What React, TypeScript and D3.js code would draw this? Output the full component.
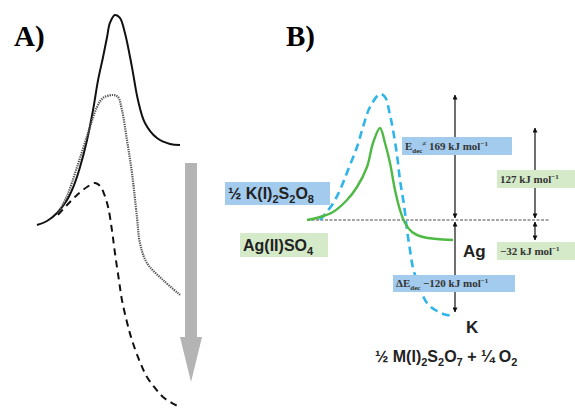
import * as d3 from "d3";
import React from "react";

// Panel A: reaction profiles (reaction coordinate 0-100, relative energy)
const profileSolid: [number, number][] = [
  [0, 0], [7, 1.9], [14, 5.7], [21, 11.9], [25.9, 19], [30.1, 27.6], [35, 40.5],
  [39.2, 54.8], [42.7, 69], [46.2, 80], [49, 89.5], [51, 96.2], [54.5, 100],
  [58, 98.6], [61.5, 91.4], [66.4, 75.2], [70.6, 59.5], [75.5, 48.6], [83.9, 41.4],
  [93, 38.6], [100, 38.1],
];
const profileDotted: [number, number][] = [
  [14.7, 5.7], [21, 13.8], [28, 27.6], [35.7, 43.8], [42, 56.2], [46.2, 60.5],
  [53.1, 61.9], [56.6, 61], [59.4, 54.8], [62.9, 40.5], [66.4, 24.8], [69.9, 3.8],
  [72, -8.6], [76.9, -18.1], [88.1, -26.2], [100, -33.3],
];
const profileDashed: [number, number][] = [
  [14.7, 4.8], [21, 9.5], [28, 14.3], [35, 18.1], [40.6, 20], [44.1, 18.6],
  [46.9, 14.8], [49.7, 8.6], [52.4, -2.4], [54.5, -13.3], [57.3, -26.2],
  [59.4, -35.7], [62.9, -46.2], [66.4, -54.8], [72, -65.2], [76.9, -72.4],
  [82.5, -77.6], [88.1, -81.9], [94.4, -84.8], [100, -86.7],
];

// Panel B: Ag and K decomposition profiles
const agProfile: [number, number][] = [
  [2.8, 0], [8, 2.4], [13.2, 6.4], [18.8, 16], [22.8, 26.4], [26.8, 42.4],
  [29.2, 61.6], [32, 73.6], [34, 61.6], [36, 45.6], [38, 24], [40, 8],
  [42, -2.4], [44.8, -9.6], [49.2, -13.6], [61.2, -16],
];
const kProfile: [number, number][] = [
  [8, 0], [12.8, 12], [16, 24], [19.2, 40], [22.8, 58.4], [25.2, 74.4],
  [28, 90.4], [32, 100.8], [34, 98.4], [36, 84], [37.2, 72], [38.8, 52],
  [40, 32], [41.6, 12], [42.8, -8], [44, -24], [45.2, -38.4], [47.2, -50.4],
  [50.8, -66.4], [54.8, -72.8], [58.8, -76], [62, -76],
];
const baselineRange = [2.8, 100];
const arrowX = [62, 94];
const energyLevels = { ts: 100, agTs: 73.6, ag: -16, k: -73.6 };

// formula pieces: [text, subscript?]
const kFormula: [string, boolean][] = [["½ K(I)", false], ["2", true], ["S", false], ["2", true], ["O", false], ["8", true]];
const agFormula: [string, boolean][] = [["Ag(II)SO", false], ["4", true]];
const productFormula: [string, boolean][] = [
  ["½ M(I)", false], ["2", true], ["S", false], ["2", true], ["O", false], ["7", true],
  [" + ¼ O", false], ["2", true],
];

const xA = d3.scaleLinear().domain([0, 100]).range([37, 180]);
const yA = d3.scaleLinear().domain([0, 100]).range([225, 15]);
const xB = d3.scaleLinear().domain([0, 100]).range([300, 550]);
const yB = d3.scaleLinear().domain([0, 100]).range([220, 95]);

const BLUE_BOX = "#a3cbed";
const GREEN_BOX = "#d4eac8";
const SERIF = "'Liberation Serif', 'DejaVu Serif', serif";
const SANS = "'Liberation Sans', Arial, sans-serif";

const formulaSpans = (parts: [string, boolean][], subSize: number) => {
  let prevSub = false;
  return parts.map(([t, sub], i) => {
    const dy = sub === prevSub ? 0 : sub ? 4 : -4;
    prevSub = sub;
    return (
      <tspan key={i} dy={dy} fontSize={sub ? subSize : undefined}>{t}</tspan>
    );
  });
};

export default function App() {
  const lineA = d3
    .line<[number, number]>()
    .x((d) => xA(d[0]))
    .y((d) => yA(d[1]))
    .curve(d3.curveCatmullRom);
  const lineB = d3
    .line<[number, number]>()
    .x((d) => xB(d[0]))
    .y((d) => yB(d[1]))
    .curve(d3.curveCatmullRom);

  const y0 = yB(0);
  const ax = xB(arrowX[0]);
  const bx = xB(arrowX[1]);

  // gray downward arrow in panel A
  const gx = xA(107.7);
  const gTop = yA(29.5);
  const gBase = yA(-53.3);
  const gTip = yA(-74.8);

  return (
    <svg width={575} height={409} style={{ position: "absolute", left: 0, top: 0, background: "#fff" }}>
      <defs>
        <marker id="ah" viewBox="0 0 6 6" refX={5.5} refY={3} markerWidth={5} markerHeight={5}
          markerUnits="userSpaceOnUse" orient="auto-start-reverse">
          <path d="M0,0 L6,3 L0,6 z" fill="#111" />
        </marker>
      </defs>

      {/* Panel A */}
      <text x={14} y={46} fontFamily={SERIF} fontWeight="bold" fontSize={29}>A)</text>
      <path d={lineA(profileSolid) ?? ""} fill="none" stroke="#111" strokeWidth={2} />
      <path d={lineA(profileDotted) ?? ""} fill="none" stroke="#555" strokeWidth={2.2} strokeDasharray="1.3,1" />
      <path d={lineA(profileDashed) ?? ""} fill="none" stroke="#111" strokeWidth={2} strokeDasharray="7,5" />
      <path
        d={`M${gx - 6},${gTop} L${gx + 6},${gTop} L${gx + 6},${gBase} L${gx + 11},${gBase} L${gx},${gTip} L${gx - 11},${gBase} L${gx - 6},${gBase} Z`}
        fill="#b4b4b4"
      />

      {/* Panel B */}
      <text x={286} y={46} fontFamily={SERIF} fontWeight="bold" fontSize={29}>B)</text>

      <line x1={xB(baselineRange[0])} x2={xB(baselineRange[1])} y1={y0} y2={y0}
        stroke="#888" strokeWidth={1.5} strokeDasharray="3,1.5" />

      <path d={lineB(kProfile) ?? ""} fill="none" stroke="#2fb5ea" strokeWidth={2.6} strokeDasharray="8,5" />
      <path d={lineB(agProfile) ?? ""} fill="none" stroke="#4fb945" strokeWidth={2.4} />

      {/* energy arrows */}
      <line x1={ax} x2={ax} y1={y0 - 2} y2={yB(energyLevels.ts)} stroke="#222" strokeWidth={1.3}
        markerStart="url(#ah)" markerEnd="url(#ah)" />
      <line x1={ax} x2={ax} y1={y0 + 2} y2={yB(energyLevels.k)} stroke="#222" strokeWidth={1.3}
        markerStart="url(#ah)" markerEnd="url(#ah)" />
      <line x1={bx} x2={bx} y1={y0 - 2} y2={yB(energyLevels.agTs)} stroke="#222" strokeWidth={1.3}
        markerStart="url(#ah)" markerEnd="url(#ah)" />
      <line x1={bx} x2={bx} y1={y0 + 2} y2={yB(energyLevels.ag)} stroke="#222" strokeWidth={1.3}
        markerStart="url(#ah)" markerEnd="url(#ah)" />

      {/* species labels */}
      <rect x={225} y={182} width={105} height={23} fill={BLUE_BOX} />
      <text x={228} y={199} fontFamily={SANS} fontWeight="bold" fontSize={16} fill="#222">
        {formulaSpans(kFormula, 11)}
      </text>
      <rect x={240} y={233} width={88} height={24} fill={GREEN_BOX} />
      <text x={243} y={251} fontFamily={SANS} fontWeight="bold" fontSize={16} fill="#222">
        {formulaSpans(agFormula, 11)}
      </text>
      <text x={463} y={257} fontFamily={SANS} fontWeight="bold" fontSize={17} fill="#222">Ag</text>
      <text x={466} y={333} fontFamily={SANS} fontWeight="bold" fontSize={17} fill="#222">K</text>
      <text x={375} y={362} fontFamily={SANS} fontWeight="bold" fontSize={16} fill="#222">
        {formulaSpans(productFormula, 11)}
      </text>

      {/* energy labels */}
      <rect x={402} y={137} width={110} height={18} fill={BLUE_BOX} />
      <text x={405} y={150} fontFamily={SERIF} fontWeight="bold" fontSize={11} fill="#333">
        E<tspan dy={3} fontSize={7}>dec</tspan><tspan dy={-7} fontSize={7}>≠</tspan>
        <tspan dy={4}> 169 kJ mol</tspan><tspan dy={-4} fontSize={7}>−1</tspan>
      </text>
      <rect x={497} y={170} width={78} height={18} fill={GREEN_BOX} />
      <text x={500} y={183} fontFamily={SERIF} fontWeight="bold" fontSize={11} fill="#333">
        127 kJ mol<tspan dy={-4} fontSize={7}>−1</tspan>
      </text>
      <rect x={497} y={242} width={78} height={18} fill={GREEN_BOX} />
      <text x={500} y={255} fontFamily={SERIF} fontWeight="bold" fontSize={11} fill="#333">
        −32 kJ mol<tspan dy={-4} fontSize={7}>−1</tspan>
      </text>
      <rect x={393} y={275} width={122} height={17} fill={BLUE_BOX} />
      <text x={396} y={287} fontFamily={SERIF} fontWeight="bold" fontSize={11} fill="#333">
        ΔE<tspan dy={3} fontSize={7}>dec</tspan><tspan dy={-3}> −120 kJ mol</tspan><tspan dy={-4} fontSize={7}>−1</tspan>
      </text>
    </svg>
  );
}
